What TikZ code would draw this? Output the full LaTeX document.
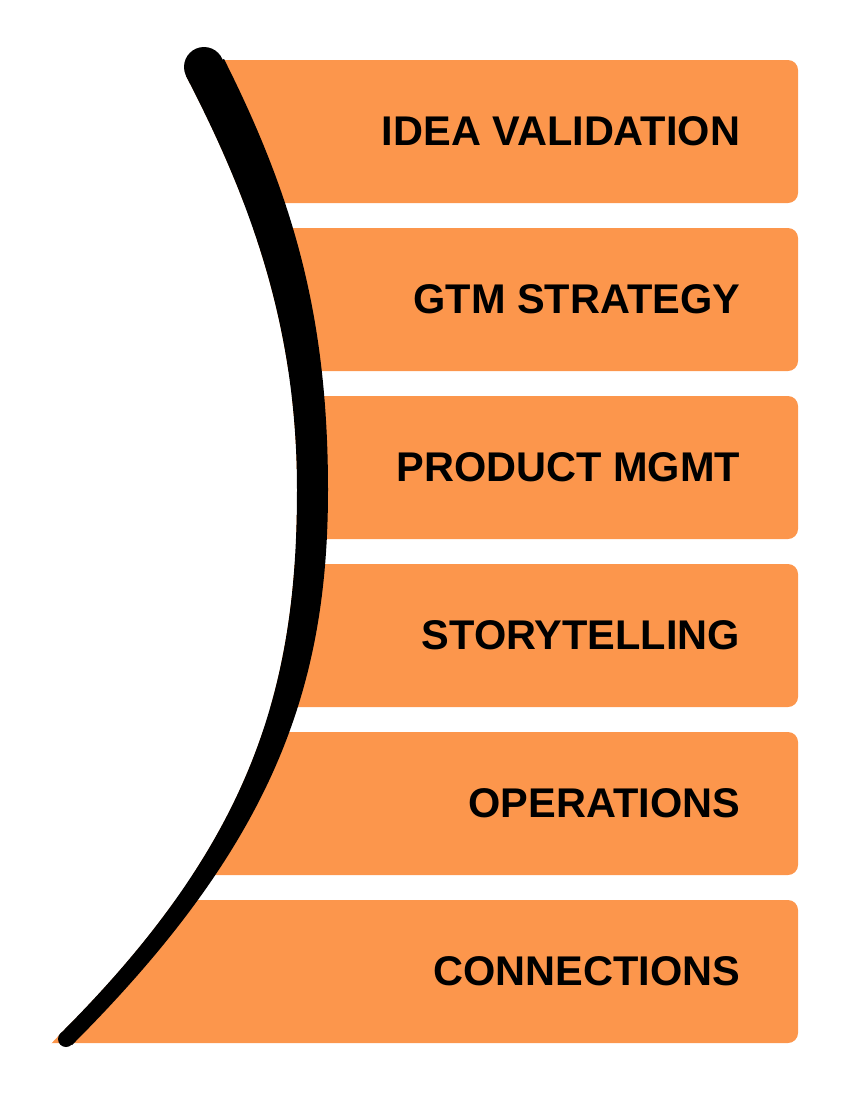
\documentclass[tikz,border=0pt]{standalone}
\usepackage{fontspec}
\setmainfont{Liberation Sans}
\definecolor{barorange}{HTML}{FC964C}
\begin{document}
\begin{tikzpicture}[x=1pt,y=-1pt,
  bar/.style={fill=barorange, draw=none, rounded corners=10pt,
    minimum width=818pt, minimum height=143pt, inner sep=0pt},
  lbl/.style={anchor=east, inner sep=0pt, text=black,
    font=\fontsize{41.5}{50}\selectfont\bfseries}]
\useasboundingbox (0,0) rectangle (852,1101);

% stacked topic bars
\foreach \i/\lab in {0/IDEA VALIDATION, 1/GTM STRATEGY, 2/PRODUCT MGMT,
                     3/STORYTELLING, 4/OPERATIONS, 5/CONNECTIONS} {
  \node[bar] (bar\i) at (389, 131.5+168*\i) {};
  \node[lbl] (lbl\i) at ([xshift=-58pt]bar\i.east) {\lab};
}

% edges of the tapered arc
\coordinate (ltop) at (186,76);
\coordinate (lmid) at (297,490);
\coordinate (lbot) at (61,1033);
\coordinate (rbot) at (72,1045);
\coordinate (rmid) at (328,490);
\coordinate (rtop) at (224,59);

% white area left of the arc hides the bar ends
\fill[white] (0,0) -- (204,0) -- (204,67) -- (ltop)
  .. controls (253,205) and (297,330) .. (lmid)
  .. controls (297,690) and (251,843) .. (lbot)
  -- (45,1050) -- (0,1050) -- cycle;

% tapered black arc
\fill[black] (ltop)
  .. controls (253,205) and (297,330) .. (lmid)
  .. controls (297,690) and (251,843) .. (lbot)
  -- (rbot)
  .. controls (272,845) and (328,690) .. (rmid)
  .. controls (328,320) and (295,200) .. (rtop) -- cycle;
\fill[black] (204,67) circle (20);
\fill[black] (66,1039) circle (8);
\end{tikzpicture}
\end{document}
